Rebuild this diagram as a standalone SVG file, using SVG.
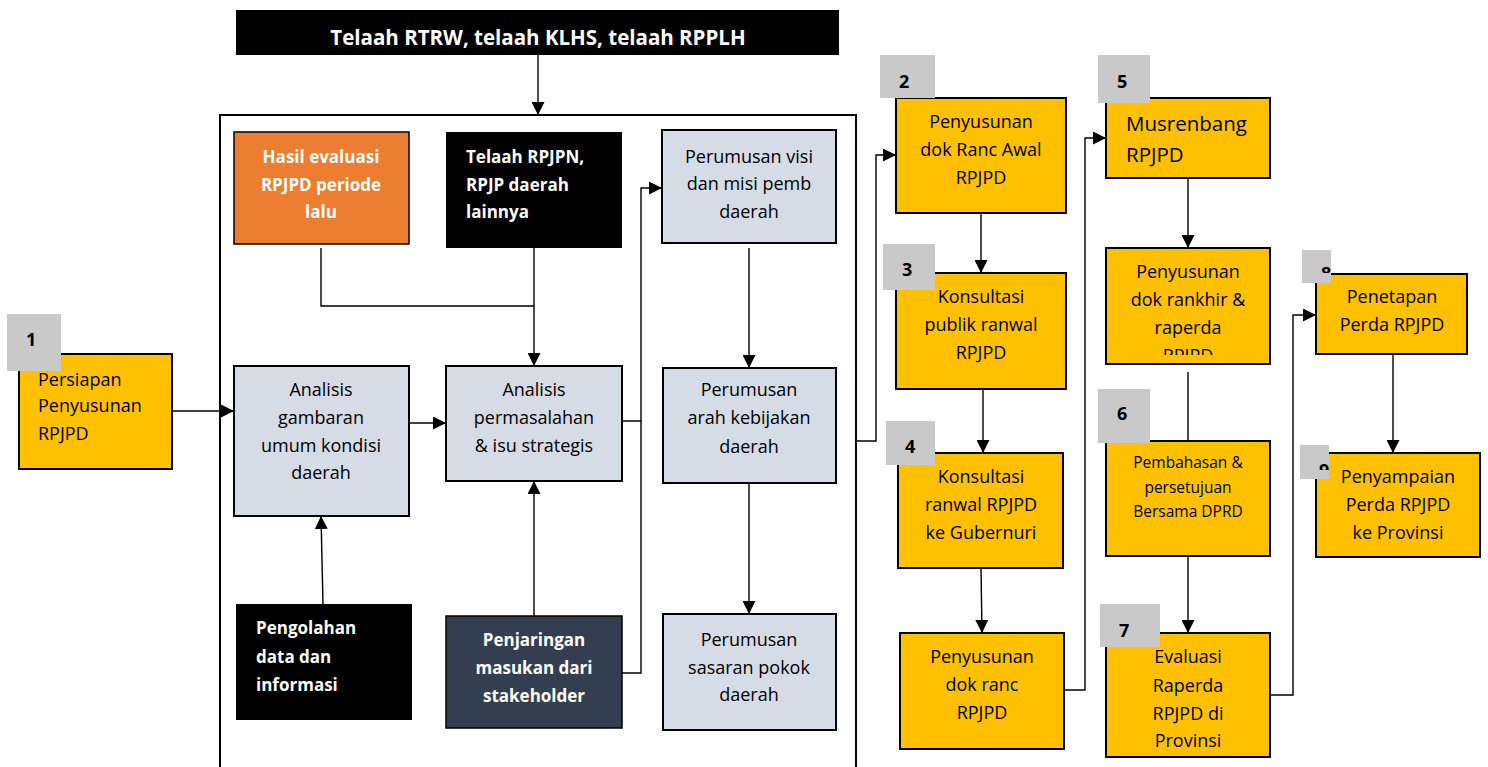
<svg xmlns="http://www.w3.org/2000/svg" width="1488" height="767" viewBox="0 0 1488 767">
<style>
text{font-family:"Open Sans","Noto Sans",sans-serif;font-size:18px;fill:#000}
.c{text-anchor:middle}
.b{font-weight:bold;font-size:17px;fill:#fff}
.n{font-weight:bold;font-size:18px;fill:#000}
.y{fill:#FFC000;stroke:#000;stroke-width:2}
.g{fill:#D6DCE5;stroke:#000;stroke-width:2}
.lab{fill:#C9C9C9}
.con{fill:none;stroke:#000;stroke-width:1.4}
</style>
<defs>
<marker id="ah" markerWidth="13" markerHeight="13" refX="13" refY="6.5" orient="auto" markerUnits="userSpaceOnUse"><path d="M0,0 L13,6.5 L0,13 z" fill="#000"/></marker>
<clipPath id="clipR"><rect x="1106" y="248" width="164" height="107"/></clipPath>
<clipPath id="clip8"><rect x="1302" y="250" width="29" height="23"/></clipPath>
<clipPath id="clip9"><rect x="1300" y="445" width="29" height="25"/></clipPath>
</defs>

<g id="connectors">
<path class="con" d="M538,55 V115" marker-end="url(#ah)"/>
<path class="con" d="M321,248 V306 H534"/>
<path class="con" d="M534,248 V366" marker-end="url(#ah)"/>
<path class="con" d="M409,423 H446" marker-end="url(#ah)"/>
<path class="con" d="M323,604 L321,516" marker-end="url(#ah)"/>
<path class="con" d="M534,616 V481" marker-end="url(#ah)"/>
<path class="con" d="M622,421 H641 V188 H662" marker-end="url(#ah)"/>
<path class="con" d="M622,673 H641 V421"/>
<path class="con" d="M749,248 V368" marker-end="url(#ah)"/>
<path class="con" d="M749,483 V614" marker-end="url(#ah)"/>
<path class="con" d="M172,411 H234" marker-end="url(#ah)"/>
<path class="con" d="M856,441 H876 V155 H896" marker-end="url(#ah)"/>
<path class="con" d="M981,213 V273" marker-end="url(#ah)"/>
<path class="con" d="M983,389 V453" marker-end="url(#ah)"/>
<path class="con" d="M981,568 L982,633" marker-end="url(#ah)"/>
<path class="con" d="M1064,690 H1085 V138 H1106" marker-end="url(#ah)"/>
<path class="con" d="M1188,178 V248" marker-end="url(#ah)"/>
<path class="con" d="M1188,372 V441"/>
<path class="con" d="M1188,556 V633" marker-end="url(#ah)"/>
<path class="con" d="M1270,695 H1293 V315 H1316" marker-end="url(#ah)"/>
<path class="con" d="M1393,354 V453" marker-end="url(#ah)"/>
</g>

<g id="top">
<rect x="236" y="10" width="603" height="45" fill="#000"/>
<text class="c b" x="538" y="45" style="font-size:20.5px">Telaah RTRW, telaah KLHS, telaah RPPLH</text>
</g>

<g id="frame">
<path d="M220,767 V115 H856 V767" fill="none" stroke="#000" stroke-width="2"/>
</g>

<g id="hasil">
<rect x="234" y="132" width="175" height="112" fill="#ED7D31" stroke="#000" stroke-width="1.5"/>
<text class="c b" x="321" y="163">Hasil evaluasi</text>
<text class="c b" x="321" y="191">RPJPD periode</text>
<text class="c b" x="321" y="218">lalu</text>
</g>

<g id="telaah-rpjpn">
<rect x="446" y="132" width="176" height="116" fill="#000"/>
<text class="b" x="466" y="163">Telaah RPJPN,</text>
<text class="b" x="466" y="191">RPJP daerah</text>
<text class="b" x="466" y="218">lainnya</text>
</g>

<g id="visi">
<rect class="g" x="662" y="130" width="174" height="113"/>
<text class="c" x="749" y="163">Perumusan visi</text>
<text class="c" x="749" y="190">dan misi pemb</text>
<text class="c" x="749" y="218">daerah</text>
</g>

<g id="gambaran">
<rect class="g" x="234" y="366" width="175" height="150"/>
<text class="c" x="321" y="396">Analisis</text>
<text class="c" x="321" y="424">gambaran</text>
<text class="c" x="321" y="452">umum kondisi</text>
<text class="c" x="321" y="479">daerah</text>
</g>

<g id="permasalahan">
<rect class="g" x="446" y="366" width="176" height="115"/>
<text class="c" x="534" y="396">Analisis</text>
<text class="c" x="534" y="424">permasalahan</text>
<text class="c" x="534" y="452">&amp; isu strategis</text>
</g>

<g id="arah">
<rect class="g" x="663" y="368" width="173" height="115"/>
<text class="c" x="749" y="396">Perumusan</text>
<text class="c" x="749" y="424">arah kebijakan</text>
<text class="c" x="749" y="453">daerah</text>
</g>

<g id="pengolahan">
<rect x="236" y="604" width="176" height="116" fill="#000"/>
<text class="b" x="256" y="634">Pengolahan</text>
<text class="b" x="256" y="663">data dan</text>
<text class="b" x="256" y="691">informasi</text>
</g>

<g id="penjaringan">
<rect x="446" y="616" width="176" height="112" fill="#333F50" stroke="#000" stroke-width="1.5"/>
<text class="c b" x="534" y="646">Penjaringan</text>
<text class="c b" x="534" y="674">masukan dari</text>
<text class="c b" x="534" y="702">stakeholder</text>
</g>

<g id="sasaran">
<rect class="g" x="663" y="614" width="173" height="116"/>
<text class="c" x="749" y="646">Perumusan</text>
<text class="c" x="749" y="674">sasaran pokok</text>
<text class="c" x="749" y="701">daerah</text>
</g>

<g id="step1">
<rect class="y" x="19" y="354" width="153" height="115"/>
<rect class="lab" x="7" y="314" width="54" height="57"/>
<text class="n" x="26" y="346">1</text>
<text x="38" y="386">Persiapan</text>
<text x="38" y="412">Penyusunan</text>
<text x="38" y="440">RPJPD</text>
</g>

<g id="step2">
<rect class="y" x="896" y="98" width="170" height="115"/>
<rect class="lab" x="880" y="55" width="55" height="43"/>
<text class="n" x="899" y="88">2</text>
<text class="c" x="981" y="128">Penyusunan</text>
<text class="c" x="981" y="156">dok Ranc Awal</text>
<text class="c" x="981" y="184">RPJPD</text>
</g>

<g id="step3">
<rect class="y" x="896" y="273" width="170" height="116"/>
<rect class="lab" x="883" y="244" width="52" height="46"/>
<text class="n" x="902" y="276">3</text>
<text class="c" x="981" y="303">Konsultasi</text>
<text class="c" x="981" y="331">publik ranwal</text>
<text class="c" x="981" y="359">RPJPD</text>
</g>

<g id="step4">
<rect class="y" x="898" y="453" width="165" height="115"/>
<rect class="lab" x="886" y="421" width="49" height="44"/>
<text class="n" x="905" y="453">4</text>
<text class="c" x="981" y="483">Konsultasi</text>
<text class="c" x="981" y="511">ranwal RPJPD</text>
<text class="c" x="981" y="539">ke Gubernuri</text>
</g>

<g id="step-ranc">
<rect class="y" x="900" y="633" width="164" height="116"/>
<text class="c" x="982" y="663">Penyusunan</text>
<text class="c" x="982" y="691">dok ranc</text>
<text class="c" x="982" y="719">RPJPD</text>
</g>

<g id="step5">
<rect class="y" x="1106" y="98" width="164" height="80"/>
<rect class="lab" x="1098" y="55" width="52" height="48"/>
<text class="n" x="1117" y="88">5</text>
<text x="1126" y="131" style="font-size:20.5px">Musrenbang</text>
<text x="1126" y="162" style="font-size:20.5px">RPJPD</text>
</g>

<g id="step-rankhir">
<rect class="y" x="1106" y="248" width="164" height="116"/>
<g clip-path="url(#clipR)">
<text class="c" x="1188" y="278">Penyusunan</text>
<text class="c" x="1188" y="306">dok rankhir &amp;</text>
<text class="c" x="1188" y="334">raperda</text>
<text class="c" x="1188" y="362">RPJPD</text>
</g>
</g>

<g id="step6">
<rect class="y" x="1106" y="441" width="164" height="115"/>
<rect class="lab" x="1098" y="389" width="52" height="54"/>
<text class="n" x="1117" y="420">6</text>
<text class="c" x="1188" y="468" style="font-size:15.5px">Pembahasan &amp;</text>
<text class="c" x="1188" y="493" style="font-size:15.5px">persetujuan</text>
<text class="c" x="1188" y="517" style="font-size:15.5px">Bersama DPRD</text>
</g>

<g id="step7">
<rect class="y" x="1106" y="633" width="164" height="124"/>
<rect class="lab" x="1100" y="604" width="60" height="43"/>
<text class="n" x="1119" y="637">7</text>
<text class="c" x="1188" y="663">Evaluasi</text>
<text class="c" x="1188" y="692">Raperda</text>
<text class="c" x="1188" y="720">RPJPD di</text>
<text class="c" x="1188" y="747">Provinsi</text>
</g>

<g id="step8">
<rect class="y" x="1316" y="274" width="151" height="80"/>
<rect class="lab" x="1302" y="250" width="29" height="33"/>
<text class="n" x="1321" y="280" clip-path="url(#clip8)">8</text>
<text class="c" x="1392" y="303">Penetapan</text>
<text class="c" x="1392" y="331">Perda RPJPD</text>
</g>

<g id="step9">
<rect class="y" x="1316" y="453" width="164" height="104"/>
<rect class="lab" x="1300" y="445" width="29" height="34"/>
<text class="n" x="1319" y="477" clip-path="url(#clip9)">9</text>
<text class="c" x="1398" y="483">Penyampaian</text>
<text class="c" x="1398" y="511">Perda RPJPD</text>
<text class="c" x="1398" y="539">ke Provinsi</text>
</g>
</svg>
